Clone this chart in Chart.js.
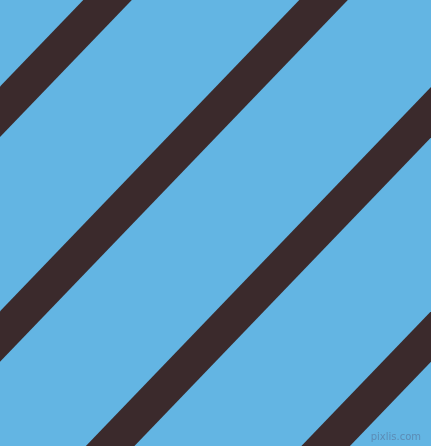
<!DOCTYPE html>
<html>
<head>
<meta charset="utf-8">
<script src="https://cdn.jsdelivr.net/npm/chart.js@4/dist/chart.umd.min.js"></script>
<style>
  html, body { margin: 0; padding: 0; background: #63b5e3; }
  #wrap { width: 431px; height: 446px; position: relative; }
</style>
</head>
<body>
<div id="wrap"><canvas id="rayas"></canvas></div>
<script>
// Datos de las franjas: x del centro arriba (y=-40) y abajo (y=486)
const franjas = ['franja1', 'franja2', 'franja3', 'franja4'];
const xArriba = [146, 362, 577.5, 793];
const xAbajo = [-359.8, -143.8, 71.7, 287.2];
const yArriba = -40;
const yAbajo = 486;

const colorFondo = '#63b5e3';
const colorFranja = '#3b2a2c';

// Plugin para el fondo y la marca de agua
const fondo = {
    id: 'fondo',
    beforeDraw(chart) {
        const ctx = chart.ctx;
        ctx.save();
        ctx.fillStyle = colorFondo;
        ctx.fillRect(0, 0, chart.width, chart.height);
        ctx.restore();
    },
    afterDraw(chart) {
        const ctx = chart.ctx;
        ctx.save();
        ctx.font = '10px "DejaVu Sans"';
        ctx.textAlign = 'right';
        ctx.textBaseline = 'bottom';
        ctx.fillStyle = 'rgba(90,130,170,0.8)';
        ctx.fillText('pixlis.com', 421, 442);
        ctx.restore();
    }
};

const datasets = franjas.map((nombre, i) => ({
    label: nombre,
    data: [{ x: xArriba[i], y: yArriba }, { x: xAbajo[i], y: yAbajo }],
    borderColor: colorFranja,
    borderWidth: 35,
    borderCapStyle: 'butt',
    pointRadius: 0,
    tension: 0,
    fill: false,
    clip: false
}));

new Chart(document.getElementById('rayas'), {
    type: 'line',
    data: { datasets },
    options: {
        responsive: true,
        maintainAspectRatio: false,
        animation: false,
        layout: { padding: 0 },
        plugins: { legend: { display: false }, tooltip: { enabled: false } },
        scales: {
            x: { type: 'linear', min: 0, max: 431, display: false },
            y: { type: 'linear', min: 0, max: 446, reverse: true, display: false }
        }
    },
    plugins: [fondo]
});
</script>
</body>
</html>
